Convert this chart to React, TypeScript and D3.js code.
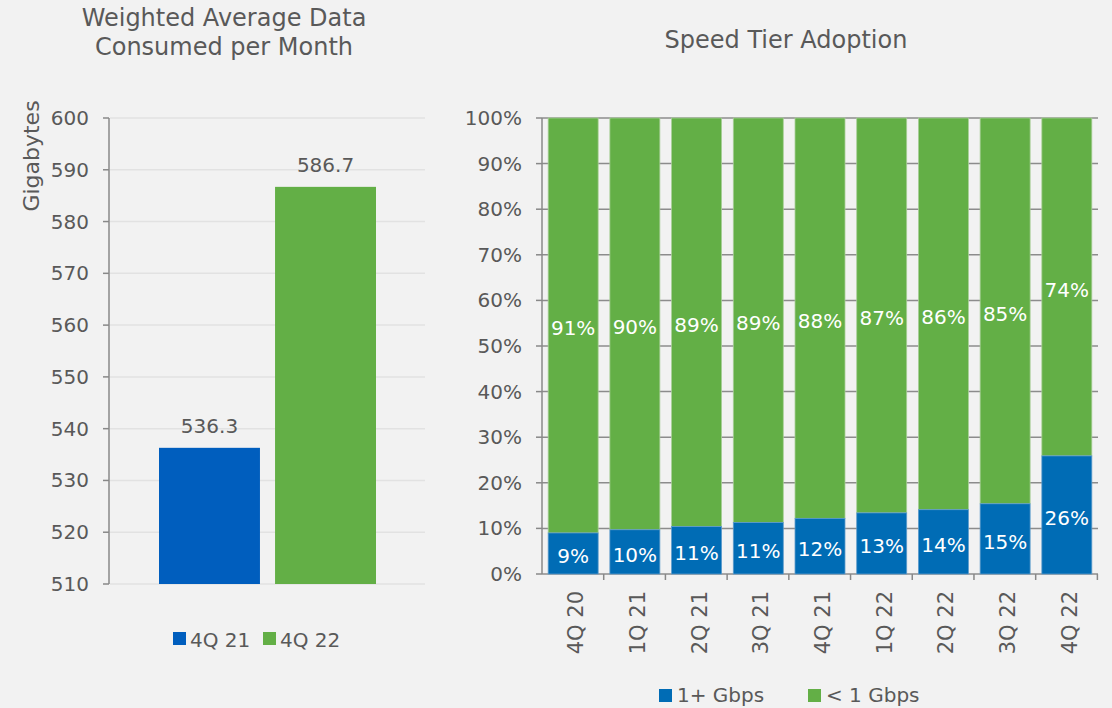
import React from "react";
import * as d3 from "d3";

const leftSeries = ["4Q 21", "4Q 22"];
const leftValues = [536.3, 586.7];
const leftTicks = [510, 520, 530, 540, 550, 560, 570, 580, 590, 600];

const quarters = ["4Q 20", "1Q 21", "2Q 21", "3Q 21", "4Q 21", "1Q 22", "2Q 22", "3Q 22", "4Q 22"];
const gigPlus = [9.0, 9.7, 10.4, 11.3, 12.2, 13.4, 14.1, 15.4, 25.9];
const gigPlusLabels = ["9%", "10%", "11%", "11%", "12%", "13%", "14%", "15%", "26%"];
const subGig = [91.0, 90.3, 89.6, 88.7, 87.8, 86.6, 85.9, 84.6, 74.1];
const subGigLabels = ["91%", "90%", "89%", "89%", "88%", "87%", "86%", "85%", "74%"];
const pctTicks = [0, 10, 20, 30, 40, 50, 60, 70, 80, 90, 100];

const FONT = "'DejaVu Sans', sans-serif";
const TEXT = "#595959";
const LBLUE = "#005EBE";
const RBLUE = "#006CB5";
const GREEN = "#63AF46";

export default function App() {
  // Left chart scales
  const ly = d3.scaleLinear().domain([510, 600]).range([584, 118]);
  const lx = d3.scaleBand<string>().domain(leftSeries).range([159, 376]).paddingInner(0.13).paddingOuter(0);
  const leftColors = [LBLUE, GREEN];

  // Right chart scales
  const ry = d3.scaleLinear().domain([0, 100]).range([574, 118]);
  const rx = d3.scaleBand<string>().domain(quarters).range([542, 1098]).paddingInner(0.19).paddingOuter(0.1);
  const step = rx.step();
  const x0 = 542;

  return (
    <svg width={1112} height={708} style={{ position: "absolute", left: 0, top: 0, background: "#F2F2F2" }} fontFamily={FONT}>
      <rect x={0} y={0} width={1112} height={708} fill="#F2F2F2" />
      {/* Left chart */}
      <text x={224} y={26} textAnchor="middle" fontSize={24} fill={TEXT}>Weighted Average Data</text>
      <text x={224} y={55} textAnchor="middle" fontSize={24} fill={TEXT}>Consumed per Month</text>
      <text transform={`translate(39,156) rotate(-90)`} textAnchor="middle" fontSize={22} fill={TEXT}>Gigabytes</text>
      {leftTicks.map((t) => (
        <g key={t}>
          <line x1={110} x2={425} y1={ly(t)} y2={ly(t)} stroke="#E2E2E2" strokeWidth={1.5} />
          <line x1={103} x2={109} y1={ly(t)} y2={ly(t)} stroke="#888" strokeWidth={1.5} />
          <text x={89} y={ly(t) + 7} textAnchor="end" fontSize={20} fill={TEXT}>{t}</text>
        </g>
      ))}
      <line x1={109} x2={109} y1={ly(600)} y2={ly(510)} stroke="#888" strokeWidth={1.5} />
      {leftSeries.map((s, i) => (
        <g key={s}>
          <rect x={lx(s)} y={ly(leftValues[i])} width={lx.bandwidth()} height={ly(510) - ly(leftValues[i])} fill={leftColors[i]} />
          <text x={(lx(s) as number) + lx.bandwidth() / 2} y={ly(leftValues[i]) - 15} textAnchor="middle" fontSize={20} fill={TEXT}>
            {leftValues[i].toFixed(1)}
          </text>
        </g>
      ))}
      {/* Left legend */}
      {leftSeries.map((s, i) => {
        const lxp = [173, 263][i];
        return (
          <g key={s}>
            <rect x={lxp} y={632} width={13} height={13} fill={leftColors[i]} />
            <text x={lxp + 17} y={647} fontSize={20} fill={TEXT}>{s}</text>
          </g>
        );
      })}

      {/* Right chart */}
      <text x={786} y={48} textAnchor="middle" fontSize={24} fill={TEXT}>Speed Tier Adoption</text>
      {pctTicks.map((t) => (
        <g key={t}>
          <line x1={x0} x2={1098} y1={ry(t)} y2={ry(t)} stroke="#8C8C8C" strokeWidth={1.5} />
          <line x1={536} x2={x0} y1={ry(t)} y2={ry(t)} stroke="#888" strokeWidth={1.5} />
          <text x={522} y={ry(t) + 7} textAnchor="end" fontSize={20} fill={TEXT}>{t}%</text>
        </g>
      ))}
      <line x1={x0} x2={x0} y1={ry(100)} y2={ry(0)} stroke="#888" strokeWidth={1.5} />
      {quarters.map((q, i) => (
        <line key={"tk" + q} x1={x0 + step * (i + 1)} x2={x0 + step * (i + 1)} y1={ry(0)} y2={ry(0) + 6} stroke="#888" strokeWidth={1.5} />
      ))}
      {quarters.map((q, i) => {
        const bx = rx(q) as number;
        const bw = rx.bandwidth();
        const yb = ry(gigPlus[i]);
        const yt = ry(gigPlus[i] + subGig[i]);
        return (
          <g key={q}>
            <rect x={bx} y={yt} width={bw} height={yb - yt} fill={GREEN} stroke="#A9CF98" strokeWidth={0.8} />
            <rect x={bx} y={yb} width={bw} height={ry(0) - yb} fill={RBLUE} stroke="#5D9BCB" strokeWidth={0.8} />
            <text x={bx + bw / 2} y={(yb + ry(0)) / 2 + 10} textAnchor="middle" fontSize={20} fill="#fff">{gigPlusLabels[i]}</text>
            <text x={bx + bw / 2} y={(yt + yb) / 2 + 10} textAnchor="middle" fontSize={20} fill="#fff">{subGigLabels[i]}</text>
            <text transform={`translate(${bx + bw / 2 + 10},591) rotate(-90)`} textAnchor="end" fontSize={21} fill={TEXT}>{q}</text>
          </g>
        );
      })}
      {/* Right legend */}
      {[{ n: "1+ Gbps", c: RBLUE, x: 659 }, { n: "< 1 Gbps", c: GREEN, x: 808 }].map((l) => (
        <g key={l.n}>
          <rect x={l.x} y={689} width={13} height={13} fill={l.c} />
          <text x={l.x + 18} y={702} fontSize={20} fill={TEXT}>{l.n}</text>
        </g>
      ))}
    </svg>
  );
}
